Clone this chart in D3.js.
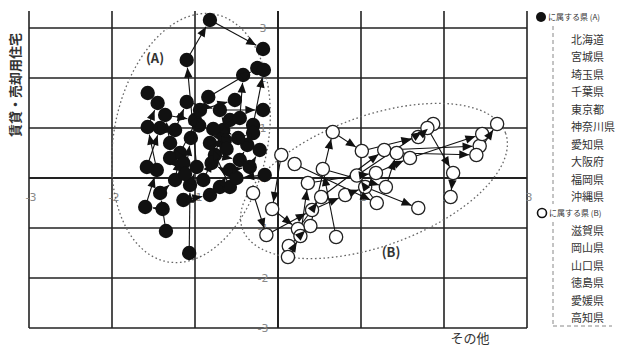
<!DOCTYPE html>
<html>
<head>
<meta charset="utf-8">
<script src="https://cdn.jsdelivr.net/npm/d3@7"></script>
<style>
  body { margin: 0; background: #fff; }
  svg { display: block; font-family: "Noto Sans CJK JP", "Noto Sans", sans-serif; }
</style>
</head>
<body>
<svg id="chart" width="617" height="347"></svg>
<script>
// tick values on both axes
const ticks = [-3, -2, -1, 0, 1, 2, 3]

// prefectures of group (A) (filled markers), one trajectory each
const prefA = ['北海道', '宮城県', '埼玉県', '千葉県', '東京都', '神奈川県', '愛知県', '大阪府', '福岡県', '沖縄県']
const pathA = [
  [[-1.39, -0.62], [-1.60, -0.58], [-1.46, 0.16], [-1.57, 1.02], [-1.45, 1.50], [-1.57, 1.70]],
  [[-1.07, -1.50], [-1.06, -0.14], [-0.98, 0.22], [-1.10, 2.36], [-0.82, 3.16], [-0.18, 2.58]],
  [[-1.35, -1.06], [-1.42, -0.30], [-1.24, -0.04], [-1.18, 0.50], [-0.84, 1.62], [-0.25, 2.20]],
  [[-0.90, -0.04], [-0.76, 0.46], [-0.46, 0.36], [-0.37, 0.66], [-0.30, 1.06], [-0.17, 2.16]],
  [[-1.58, 0.22], [-1.42, 1.00], [-1.24, 0.96], [-1.10, 1.52], [-0.70, 1.36], [-0.18, 1.36]],
  [[-1.14, -0.44], [-0.82, -0.34], [-0.70, -0.18], [-0.58, 0.16], [-0.34, 0.22], [-0.22, 0.56]],
  [[-1.14, 0.30], [-1.30, 0.70], [-1.36, 1.26], [-1.00, 1.16], [-0.94, 1.36], [-0.52, 1.56]],
  [[-0.58, -0.18], [-0.82, 0.70], [-0.64, 0.76], [-0.58, 1.16], [-0.46, 1.20], [-0.42, 2.06]],
  [[-0.16, 0.06], [-0.50, 0.00], [-0.80, 0.30], [-0.66, 0.96], [-0.48, 0.80], [-0.30, 0.90]],
  [[-1.30, 0.40], [-1.12, 0.08], [-1.05, 0.80], [-0.95, 1.05], [-0.78, 0.98], [-0.62, 0.58]]
]

// prefectures of group (B) (open markers)
const prefB = ['滋賀県', '岡山県', '山口県', '徳島県', '愛媛県', '高知県']
const pathB = [
  [[0.13, -1.36], [0.39, -0.96], [0.66, 0.92], [1.01, 0.54], [1.69, 0.82], [1.87, 1.08]],
  [[-0.30, -0.30], [-0.14, -1.14], [0.41, -0.64], [0.81, -0.34], [1.05, -0.18], [1.69, -0.60]],
  [[0.04, 0.46], [-0.07, -0.62], [0.24, -1.02], [0.52, -0.38], [1.28, 0.56], [2.43, 0.64]],
  [[0.12, -1.58], [0.27, -1.16], [0.36, -0.10], [1.18, 0.10], [1.59, 0.40], [2.46, 0.88]],
  [[0.70, -1.18], [0.54, 0.18], [1.30, -0.18], [1.43, 0.50], [2.39, 0.46], [2.64, 1.08]],
  [[0.20, 0.28], [1.19, -0.50], [0.95, 0.05], [1.80, 1.00], [2.11, 0.10], [2.08, -0.38]]
]

const svg = d3.select('#chart')
const x = d3.scaleLinear().domain([-3, 3]).range([29, 527])
const y = d3.scaleLinear().domain([-3, 3]).range([328, 28])
const rA = 7.2, rB = 6.6

// grid
const grid = svg.append('g').attr('stroke', '#222')
grid.selectAll('line.v').data(ticks).enter().append('line')
  .attr('x1', d => x(d)).attr('x2', d => x(d))
  .attr('y1', y(3.34)).attr('y2', y(-3))
  .attr('stroke-width', d => d === 0 ? 2 : 1.6)
grid.selectAll('line.h').data(ticks).enter().append('line')
  .attr('y1', d => y(d)).attr('y2', d => y(d))
  .attr('x1', x(-3)).attr('x2', x(3))
  .attr('stroke-width', d => d === 0 ? 2 : 1.6)

// tick labels (faint, printed next to the axes)
const lab = svg.append('g').attr('fill', '#8a8a8a').attr('font-size', 11)
  .attr('font-family', 'DejaVu Sans, sans-serif').attr('text-anchor', 'middle')
lab.selectAll('text.x').data(ticks.filter(d => d !== 0)).enter().append('text')
  .attr('x', d => x(d) + 2).attr('y', y(0) + 23).text(d => d)
lab.selectAll('text.y').data(ticks).enter().append('text')
  .attr('x', x(0) - 15).attr('y', d => y(d) + 4).text(d => d)

// dotted group ellipses
const ell = svg.append('g').attr('fill', 'none').attr('stroke', '#666')
  .attr('stroke-width', 1.3).attr('stroke-dasharray', '1.6,2.6')
ell.append('ellipse').attr('cx', 191).attr('cy', 138).attr('rx', 77).attr('ry', 126)
  .attr('transform', 'rotate(11,191,138)')
ell.append('ellipse').attr('cx', 374).attr('cy', 181).attr('rx', 140).attr('ry', 65)
  .attr('transform', 'rotate(-20,374,181)')

svg.append('text').attr('x', 155).attr('y', 63).attr('text-anchor', 'middle')
  .attr('font-size', 13).attr('font-weight', 'bold').attr('fill', '#333').text('(A)')
svg.append('text').attr('x', 391).attr('y', 257).attr('text-anchor', 'middle')
  .attr('font-size', 13).attr('font-weight', 'bold').attr('fill', '#333').text('(B)')

// arrows
function segments (paths, r) {
  const segs = []
  paths.forEach(p => {
    for (let i = 1; i < p.length; i++) segs.push({ a: p[i - 1], b: p[i], r })
  })
  return segs
}
const allSegs = segments(pathA, rA).concat(segments(pathB, rB))
const arrowLen = 10, arrowHalf = 4.2

function geom (s) {
  const x0 = x(s.a[0]), y0 = y(s.a[1]), x1 = x(s.b[0]), y1 = y(s.b[1])
  const len = Math.hypot(x1 - x0, y1 - y0) || 1
  const ux = (x1 - x0) / len, uy = (y1 - y0) / len
  const tx = x1 - ux * (s.r + 0.5), ty = y1 - uy * (s.r + 0.5)
  return { x0, y0, ux, uy, tx, ty }
}

svg.append('g').attr('stroke', '#111').attr('stroke-width', 1.1)
  .selectAll('line').data(allSegs).enter().append('line')
  .attr('x1', d => geom(d).x0).attr('y1', d => geom(d).y0)
  .attr('x2', d => geom(d).tx).attr('y2', d => geom(d).ty)

// markers
svg.append('g').selectAll('circle').data(pathB.flat()).enter().append('circle')
  .attr('cx', d => x(d[0])).attr('cy', d => y(d[1])).attr('r', rB)
  .attr('fill', '#fff').attr('stroke', '#222').attr('stroke-width', 1.3)
svg.append('g').selectAll('circle').data(pathA.flat()).enter().append('circle')
  .attr('cx', d => x(d[0])).attr('cy', d => y(d[1])).attr('r', rA)
  .attr('fill', '#111')

svg.append('g').attr('fill', '#111').selectAll('path').data(allSegs).enter().append('path')
  .attr('d', d => {
    const g = geom(d)
    const bx = g.tx - g.ux * arrowLen, by = g.ty - g.uy * arrowLen
    const px = -g.uy * arrowHalf, py = g.ux * arrowHalf
    return `M${g.tx},${g.ty}L${bx + px},${by + py}L${bx - px},${by - py}Z`
  })

// axis titles
svg.append('text').attr('transform', 'translate(20,85) rotate(-90)')
  .attr('text-anchor', 'middle').attr('font-size', 13).attr('font-weight', 'bold')
  .attr('fill', '#333').text('賃貸・売却用住宅')
svg.append('text').attr('x', 470).attr('y', 343).attr('text-anchor', 'middle')
  .attr('font-size', 13).attr('fill', '#333').text('その他')

// legend
const leg = svg.append('g').attr('fill', '#333')
const rowA = d3.scaleLinear().domain([0, prefA.length - 1]).range([44, 201])
const rowB = d3.scaleLinear().domain([0, prefB.length - 1]).range([235, 322])
leg.append('circle').attr('cx', 541).attr('cy', 17).attr('r', 5).attr('fill', '#111')
leg.append('text').attr('x', 548).attr('y', 20).attr('font-size', 8).text('に属する県 (A)')
leg.selectAll('text.a').data(prefA).enter().append('text')
  .attr('x', 571).attr('y', (d, i) => rowA(i)).attr('font-size', 11).text(d => d)
leg.append('circle').attr('cx', 542).attr('cy', 213).attr('r', 4.5)
  .attr('fill', '#fff').attr('stroke', '#111').attr('stroke-width', 1.6)
leg.append('text').attr('x', 549).attr('y', 216).attr('font-size', 8).text('に属する県 (B)')
leg.selectAll('text.b').data(prefB).enter().append('text')
  .attr('x', 571).attr('y', (d, i) => rowB(i)).attr('font-size', 11).text(d => d)

const dash = svg.append('g').attr('stroke', '#888').attr('stroke-width', 1).attr('stroke-dasharray', '4,3')
dash.append('line').attr('x1', 553).attr('x2', 553).attr('y1', 26).attr('y2', 204)
dash.append('line').attr('x1', 553).attr('x2', 553).attr('y1', 222).attr('y2', 326)
dash.append('line').attr('x1', 553).attr('x2', 612).attr('y1', 326).attr('y2', 326)
</script>
</body>
</html>
